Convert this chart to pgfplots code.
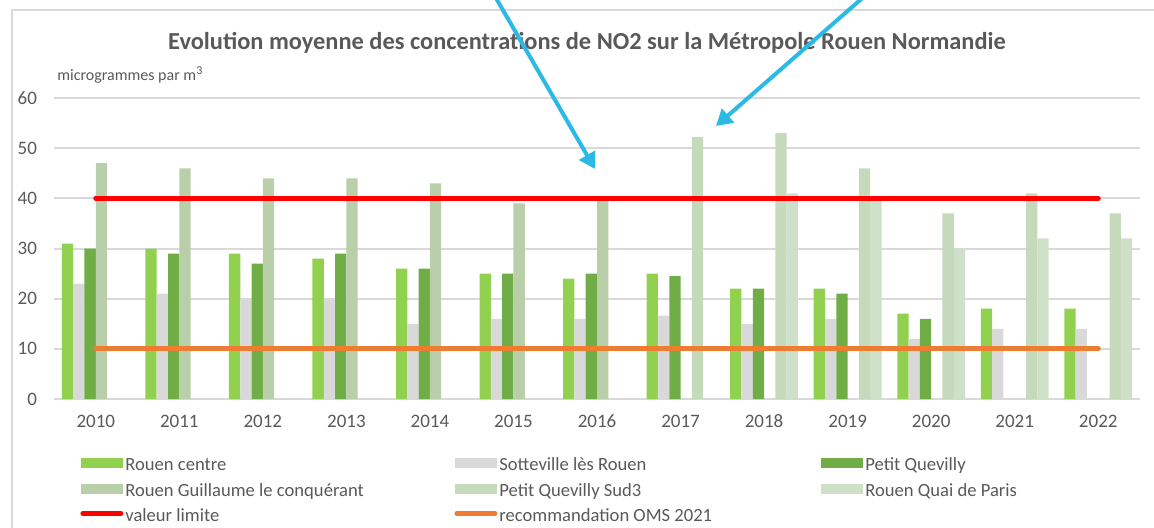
\documentclass[border=0pt]{standalone}
\usepackage{pgfplots}
\pgfplotsset{compat=1.18}
\usepackage{fontspec}
\setmainfont{Carlito}
\usetikzlibrary{arrows.meta}
\definecolor{ccentre}{RGB}{146,208,80}
\definecolor{csott}{RGB}{217,217,217}
\definecolor{cpq}{RGB}{112,173,71}
\definecolor{cguil}{RGB}{184,207,170}
\definecolor{csud}{RGB}{197,217,187}
\definecolor{cquai}{RGB}{207,224,200}
\definecolor{ctext}{RGB}{89,89,89}
\definecolor{cgrid}{RGB}{217,217,217}
\definecolor{cred}{RGB}{255,0,0}
\definecolor{corange}{RGB}{237,125,49}
\definecolor{cblue}{RGB}{43,185,230}
\begin{document}
\begin{tikzpicture}
\draw[cgrid, line width=0.8pt] (6pt,-5pt) rectangle (590pt,-280pt);
\begin{axis}[
  scale only axis,
  width=543pt, height=150.5pt,
  at={(27pt,-199.5pt)}, anchor=south west,
  xmin=-0.5, xmax=12.5, ymin=0, ymax=60,
  ybar=0pt, bar width=5.65pt,
  xtick={0,...,12},
  xticklabels={2010,2011,2012,2013,2014,2015,2016,2017,2018,2019,2020,2021,2022},
  ytick={0,10,...,60},
  major tick length=0pt,
  axis line style={draw=none},
  ymajorgrids, grid style={cgrid, line width=1pt},
  tick label style={font=\fontsize{9.5}{11}\selectfont, text=ctext},
  /pgf/number format/assume math mode=true,
  yticklabel style={xshift=-5pt},
  xticklabel style={yshift=-4pt, text height=6.5pt},
  clip=false,
  legend columns=3,
  legend style={draw=none, fill=none, at={(10pt,-27.5pt)}, anchor=north west,
    font=\fontsize{9.3}{11}\selectfont, text=ctext,
    nodes={inner xsep=1pt, inner ysep=0pt, text height=6pt, text depth=2pt},
    row sep=4.4pt, column sep=0pt},
  legend cell align=left,
]
\addplot[fill=ccentre, draw=none, legend image code/.code={\fill[ccentre] (0,-0.75pt) rectangle (21pt,4.25pt);}] coordinates {
(0,31) (1,30) (2,29) (3,28) (4,26) (5,25) (6,24) (7,25) (8,22) (9,22) (10,17) (11,18) (12,18)};
\addlegendentry{\makebox[163.5pt][l]{Rouen centre}}
\addplot[fill=csott, draw=none, legend image code/.code={\fill[csott] (0,-0.75pt) rectangle (21pt,4.25pt);}] coordinates {
(0,23) (1,21) (2,20) (3,20) (4,15) (5,16) (6,16) (7,16.6) (8,15) (9,16) (10,12) (11,14) (12,14)};
\addlegendentry{\makebox[160pt][l]{Sotteville lès Rouen}}
\addplot[fill=cpq, draw=none, legend image code/.code={\fill[cpq] (0,-0.75pt) rectangle (21pt,4.25pt);}] coordinates {
(0,30) (1,29) (2,27) (3,29) (4,26) (5,25) (6,25) (7,24.5) (8,22) (9,21) (10,16)};
\addlegendentry{Petit Quevilly}
\addplot[fill=cguil, draw=none, legend image code/.code={\fill[cguil] (0,-0.75pt) rectangle (21pt,4.25pt);}] coordinates {
(0,47) (1,46) (2,44) (3,44) (4,43) (5,39) (6,39.8)};
\addlegendentry{\makebox[163.5pt][l]{Rouen Guillaume le conquérant}}
\addplot[fill=csud, draw=none, legend image code/.code={\fill[csud] (0,-0.75pt) rectangle (21pt,4.25pt);}] coordinates {
(7,52.2) (8,53) (9,46) (10,37) (11,41) (12,37)};
\addlegendentry{\makebox[160pt][l]{Petit Quevilly Sud3}}
\addplot[fill=cquai, draw=none, legend image code/.code={\fill[cquai] (0,-0.75pt) rectangle (21pt,4.25pt);}] coordinates {
(8,41) (9,39.8) (10,30) (11,32) (12,32)};
\addlegendentry{Rouen Quai de Paris}
\addplot[cred, line width=2.5pt, line cap=round, sharp plot, legend image code/.code={\draw[cred, line width=2.5pt, line cap=round] (1pt,1.75pt) -- (20pt,1.75pt);}] coordinates {(0,40) (12,40)};
\addlegendentry{\makebox[163.5pt][l]{valeur limite}}
\addplot[corange, line width=2.5pt, line cap=round, sharp plot, legend image code/.code={\draw[corange, line width=2.5pt, line cap=round] (1pt,1.75pt) -- (20pt,1.75pt);}] coordinates {(0,10) (12,10)};
\addlegendentry{recommandation OMS 2021}
\end{axis}
\node[text=ctext, font=\fontsize{12.2}{14}\selectfont\bfseries] at (293.5pt,-21.5pt) {Evolution moyenne des concentrations de NO2 sur la Métropole Rouen Normandie};
\node[text=ctext, font=\fontsize{8}{9}\selectfont, anchor=west, inner sep=0pt] at (28.5pt,-37.5pt) {microgrammes par m\textsuperscript{3}};
\draw[cblue, line width=2pt, -{Triangle[width=9pt,length=8pt]}] (242.75pt,10pt) -- (297.5pt,-84.5pt);
\draw[cblue, line width=2pt, -{Triangle[width=9pt,length=8pt]}] (441.5pt,10pt) -- (358pt,-63pt);
\pgfresetboundingbox
\useasboundingbox (0pt,0pt) rectangle (577pt,-263.5pt);
\end{tikzpicture}
\end{document}
